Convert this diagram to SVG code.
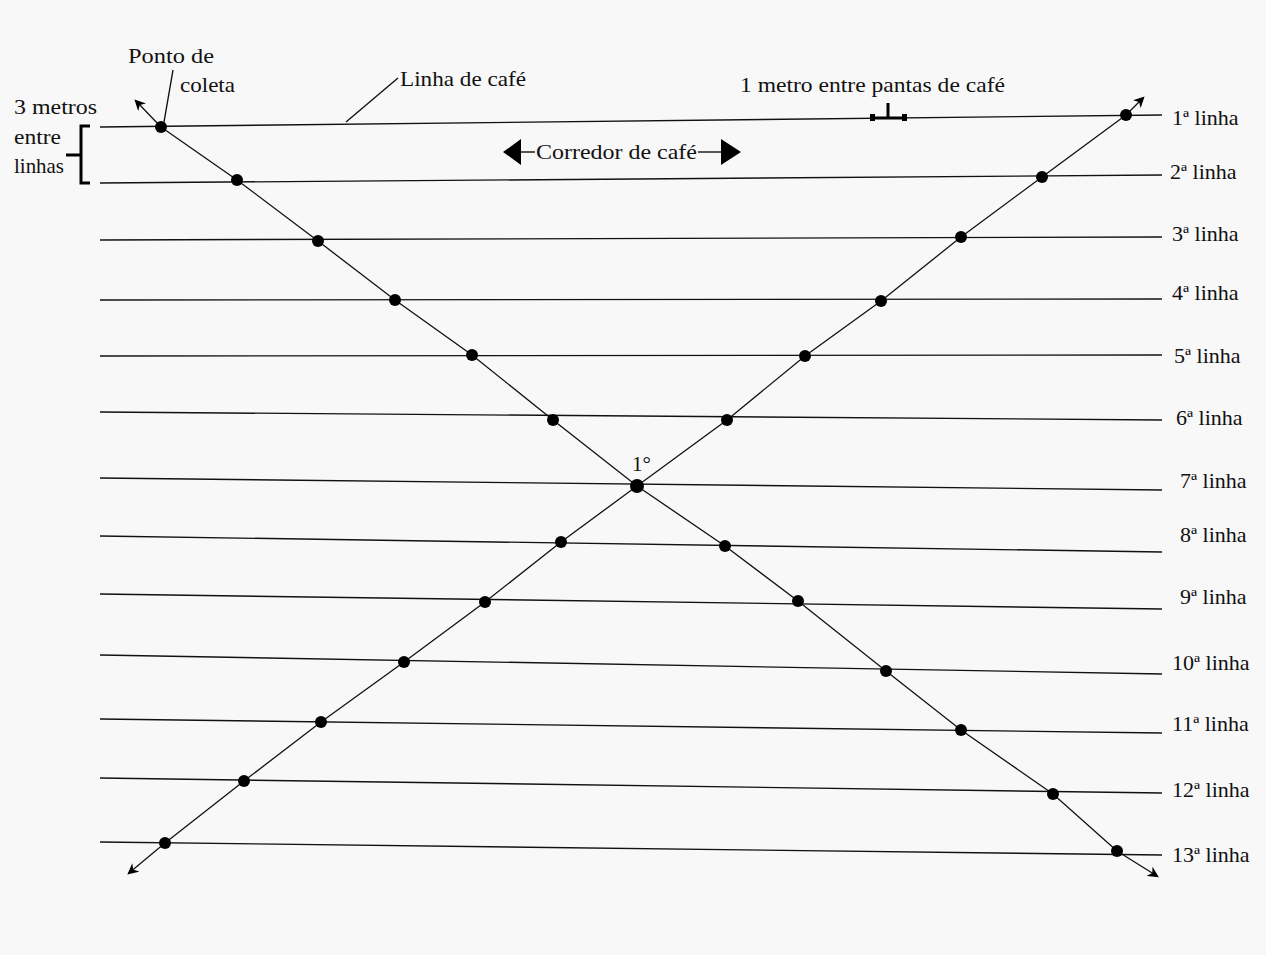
<svg xmlns="http://www.w3.org/2000/svg" width="1266" height="955" viewBox="0 0 1266 955">
<defs>
<style>
.ln{stroke:#111;stroke-width:1.4;fill:none}
.dg{stroke:#111;stroke-width:1.3;fill:none}
.thick{stroke:#000;stroke-width:3;fill:none}
.t{font-family:'Liberation Serif','Times New Roman','DejaVu Serif',serif;font-size:22px;fill:#111}
.s{font-family:'Liberation Serif','Times New Roman','DejaVu Serif',serif;font-size:21px;fill:#111}
.dot{fill:#000}
</style>
<marker id="ah" viewBox="0 0 10 10" refX="8" refY="5" markerWidth="11" markerHeight="11" markerUnits="userSpaceOnUse" orient="auto">
<path d="M0,0 L10,5 L0,10 L3,5 z" fill="#000"/>
</marker>
</defs>
<rect width="1266" height="955" fill="#f8f8f8"/>
<g id="linhas">
<line class="ln" x1="100" y1="127" x2="1162" y2="115"/>
<line class="ln" x1="100" y1="183" x2="1162" y2="175"/>
<line class="ln" x1="100" y1="240" x2="1162" y2="237"/>
<line class="ln" x1="100" y1="300" x2="1162" y2="299"/>
<line class="ln" x1="100" y1="356" x2="1162" y2="355"/>
<line class="ln" x1="100" y1="412" x2="1162" y2="420"/>
<line class="ln" x1="100" y1="478" x2="1162" y2="490"/>
<line class="ln" x1="100" y1="536" x2="1162" y2="552"/>
<line class="ln" x1="100" y1="594" x2="1162" y2="609"/>
<line class="ln" x1="100" y1="655" x2="1162" y2="674"/>
<line class="ln" x1="100" y1="719" x2="1162" y2="733"/>
<line class="ln" x1="100" y1="778" x2="1162" y2="793"/>
<line class="ln" x1="100" y1="842" x2="1162" y2="855"/>
</g>
<g id="connectors">
<polyline class="dg" points="161,127 237,180 318,241 395,300 472,355 553,420 637,486 725,546 798,601 886,671 961,730 1053,794 1117,851"/>
<line class="dg" x1="161" y1="127" x2="136" y2="101" marker-end="url(#ah)"/>
<line class="dg" x1="1117" y1="851" x2="1157" y2="876" marker-end="url(#ah)"/>
<polyline class="dg" points="165,843 244,781 321,722 404,662 485,602 561,542 637,486 727,420 805,356 881,301 961,237 1042,177 1126,115"/>
<line class="dg" x1="165" y1="843" x2="129" y2="873" marker-end="url(#ah)"/>
<line class="dg" x1="1126" y1="115" x2="1143" y2="98" marker-end="url(#ah)"/>
</g>
<g id="pontos">
<circle class="dot" cx="161" cy="127" r="6"/>
<circle class="dot" cx="237" cy="180" r="6"/>
<circle class="dot" cx="318" cy="241" r="6"/>
<circle class="dot" cx="395" cy="300" r="6"/>
<circle class="dot" cx="472" cy="355" r="6"/>
<circle class="dot" cx="553" cy="420" r="6"/>
<circle class="dot" cx="637" cy="486" r="7"/>
<circle class="dot" cx="725" cy="546" r="6"/>
<circle class="dot" cx="798" cy="601" r="6"/>
<circle class="dot" cx="886" cy="671" r="6"/>
<circle class="dot" cx="961" cy="730" r="6"/>
<circle class="dot" cx="1053" cy="794" r="6"/>
<circle class="dot" cx="1117" cy="851" r="6"/>
<circle class="dot" cx="165" cy="843" r="6"/>
<circle class="dot" cx="244" cy="781" r="6"/>
<circle class="dot" cx="321" cy="722" r="6"/>
<circle class="dot" cx="404" cy="662" r="6"/>
<circle class="dot" cx="485" cy="602" r="6"/>
<circle class="dot" cx="561" cy="542" r="6"/>
<circle class="dot" cx="727" cy="420" r="6"/>
<circle class="dot" cx="805" cy="356" r="6"/>
<circle class="dot" cx="881" cy="301" r="6"/>
<circle class="dot" cx="961" cy="237" r="6"/>
<circle class="dot" cx="1042" cy="177" r="6"/>
<circle class="dot" cx="1126" cy="115" r="6"/>
</g>
<g id="rotulos-linhas">
<text class="t" x="1172" y="125">1ª linha</text>
<text class="t" x="1170" y="179">2ª linha</text>
<text class="t" x="1172" y="241">3ª linha</text>
<text class="t" x="1172" y="300">4ª linha</text>
<text class="t" x="1174" y="363">5ª linha</text>
<text class="t" x="1176" y="425">6ª linha</text>
<text class="t" x="1180" y="488">7ª linha</text>
<text class="t" x="1180" y="542">8ª linha</text>
<text class="t" x="1180" y="604">9ª linha</text>
<text class="t" x="1172" y="670">10ª linha</text>
<text class="t" x="1172" y="731">11ª linha</text>
<text class="t" x="1172" y="797">12ª linha</text>
<text class="t" x="1172" y="862">13ª linha</text>
</g>
<g id="espacamento-linhas">
<text class="s" x="14" y="114" textLength="83" lengthAdjust="spacingAndGlyphs">3 metros</text>
<text class="s" x="14" y="144" textLength="47" lengthAdjust="spacingAndGlyphs">entre</text>
<text class="s" x="14" y="173" textLength="50" lengthAdjust="spacingAndGlyphs">linhas</text>
<polyline class="thick" points="90,126 81,126 81,183 90,183"/>
<line class="thick" x1="66" y1="155" x2="81" y2="155"/>
</g>
<g id="ponto-coleta">
<text class="s" x="128" y="63" textLength="86" lengthAdjust="spacingAndGlyphs">Ponto de</text>
<text class="s" x="180" y="92" textLength="55" lengthAdjust="spacingAndGlyphs">coleta</text>
<line class="ln" x1="173" y1="70" x2="164" y2="122"/>
</g>
<g id="linha-cafe">
<text class="s" x="400" y="86" textLength="126" lengthAdjust="spacingAndGlyphs">Linha de café</text>
<line class="ln" x1="398" y1="78" x2="346" y2="122"/>
</g>
<g id="espacamento-plantas">
<text class="s" x="740" y="92" textLength="265" lengthAdjust="spacingAndGlyphs">1 metro entre pantas de café</text>
<line class="thick" x1="872" y1="118" x2="906" y2="118"/>
<line class="thick" x1="888" y1="103" x2="888" y2="118"/>
<rect x="870" y="114" width="5" height="7" fill="#000"/>
<rect x="902" y="114" width="5" height="7" fill="#000"/>
</g>
<g id="corredor">
<polygon points="503,152 521,139 521,165" fill="#000"/>
<line class="ln" x1="520" y1="152" x2="535" y2="152"/>
<text class="t" x="536" y="159" textLength="161" lengthAdjust="spacingAndGlyphs">Corredor de café</text>
<line class="ln" x1="698" y1="152" x2="722" y2="152"/>
<polygon points="721,139 721,165 741,152" fill="#000"/>
</g>
<g id="primeiro">
<text class="s" x="632" y="471">1°</text>
</g>
</svg>
